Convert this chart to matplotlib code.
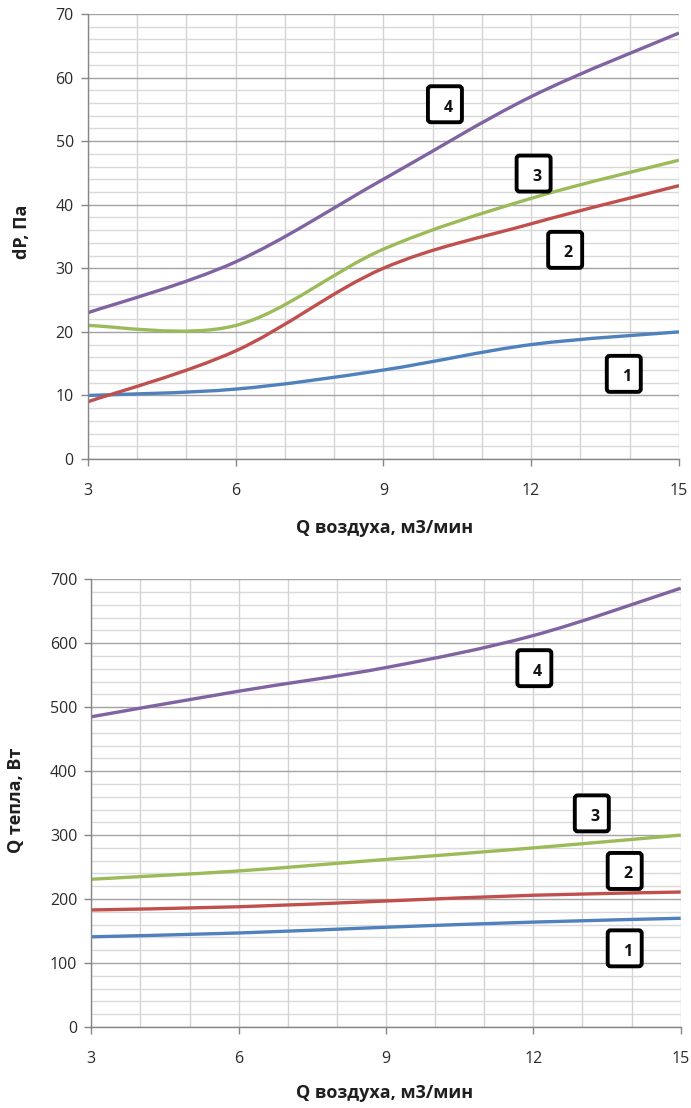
import matplotlib
matplotlib.use("Agg")
import matplotlib.pyplot as plt
from matplotlib.path import Path
from matplotlib.patches import PathPatch, FancyBboxPatch
from matplotlib.ticker import MultipleLocator
from matplotlib.transforms import ScaledTranslation

plt.rcParams['font.family'] = ['Open Sans', 'DejaVu Sans']

# ---- data ----
x_vals = [3, 6, 9, 12, 15]
x_ticks = [3, 6, 9, 12, 15]

dp_1 = [10, 11, 14, 18, 20]
dp_2 = [9, 17, 30, 37, 43]
dp_3 = [21, 21, 33, 41, 47]
dp_4 = [23, 31, 44, 57, 67]

q_1 = [141, 147, 156, 164, 170]
q_2 = [183, 188, 197, 206, 211]
q_3 = [231, 244, 262, 280, 300]
q_4 = [485, 525, 562, 612, 686]

labels = ["1", "2", "3", "4"]
dp_label_x = [13.88, 12.69, 12.05, 10.25]
dp_label_y = [13.4, 32.9, 44.9, 55.8]
q_label_x = [13.86, 13.86, 13.19, 12.02]
q_label_y = [123, 244, 334, 561]

colors = ['#4F81BD', '#C0504D', '#9BBB59', '#8064A2']

xlabel = "Q воздуха, м3/мин"
ylabel_top = "dP, Па"
ylabel_bot = "Q тепла, Вт"


def smooth_path(xs, ys):
    """Excel-style smoothed line as a cubic Bezier path through the points."""
    pts = list(zip(xs, ys))
    n = len(pts)
    verts = [pts[0]]
    codes = [Path.MOVETO]
    for i in range(n - 1):
        p0 = pts[i - 1] if i > 0 else pts[i]
        p1 = pts[i]
        p2 = pts[i + 1]
        p3 = pts[i + 2] if i + 2 < n else pts[i + 1]
        c1 = (p1[0] + (p2[0] - p0[0]) / 6.0, p1[1] + (p2[1] - p0[1]) / 6.0)
        c2 = (p2[0] - (p3[0] - p1[0]) / 6.0, p2[1] - (p3[1] - p1[1]) / 6.0)
        verts += [c1, c2, p2]
        codes += [Path.CURVE4] * 3
    return Path(verts, codes)


fig = plt.figure(figsize=(6.91, 11.08), dpi=100)
ax1 = fig.add_axes([0.1269, 0.5857, 0.9826 - 0.1269, 0.9874 - 0.5857])
ax2 = fig.add_axes([0.1321, 0.0731, 0.9851 - 0.1321, 0.4772 - 0.0731])


def style(ax, ymax, ymajor, yminor):
    ax.set_xlim(3, 15)
    ax.set_ylim(0, ymax)
    ax.set_xticks(x_ticks)
    ax.xaxis.set_minor_locator(MultipleLocator(1))
    ax.yaxis.set_major_locator(MultipleLocator(ymajor))
    ax.yaxis.set_minor_locator(MultipleLocator(yminor))
    ax.grid(axis='y', which='major', color='#a3a3a3', linewidth=1.0)
    ax.grid(axis='y', which='minor', color='#d9d9d9', linewidth=1.0)
    ax.grid(axis='x', which='both', color='#d4d4d4', linewidth=1.0)
    ax.set_axisbelow(True)
    for s in ['top', 'right']:
        ax.spines[s].set_visible(False)
    for s in ['left', 'bottom']:
        ax.spines[s].set_color('#868686')
        ax.spines[s].set_linewidth(1.0)
    ax.tick_params(which='major', direction='out', length=5, width=1,
                   color='#868686', labelsize=11.5, labelcolor='#2b2b2b')
    ax.tick_params(axis='x', which='major', pad=12)
    ax.tick_params(axis='y', which='major', pad=5)
    ax.tick_params(which='minor', length=0)


style(ax1, 70, 10, 2)
style(ax2, 700, 100, 20)

for ys, c in zip([dp_1, dp_2, dp_3, dp_4], colors):
    ax1.add_patch(PathPatch(smooth_path(x_vals, ys), facecolor='none',
                            edgecolor=c, linewidth=2.4, capstyle='butt'))
for ys, c in zip([q_1, q_2, q_3, q_4], colors):
    ax2.add_patch(PathPatch(smooth_path(x_vals, ys), facecolor='none',
                            edgecolor=c, linewidth=2.4, capstyle='butt'))

bw, bh = 0.34, 0.36  # box size in inches
for ax, lx, ly in [(ax1, dp_label_x, dp_label_y), (ax2, q_label_x, q_label_y)]:
    for t, xx, yy in zip(labels, lx, ly):
        tr = fig.dpi_scale_trans + ScaledTranslation(xx, yy, ax.transData)
        ax.add_artist(FancyBboxPatch((-bw / 2, -bh / 2), bw, bh,
                                     boxstyle='round,pad=0,rounding_size=0.03',
                                     facecolor='white', edgecolor='black',
                                     linewidth=2.8, transform=tr, zorder=5,
                                     clip_on=False))
        ax.text(0.03, -0.035, t, transform=tr, ha='center', va='center',
                fontsize=11.5, fontweight='bold', color='#111111', zorder=6)

lab_font = dict(fontsize=13, fontweight='bold', color='#1f1f1f')
fig.text(0.557, 1 - 528 / 1108, xlabel, ha='center', va='center', **lab_font)
fig.text(0.557, 1 - 1093 / 1108, xlabel, ha='center', va='center', **lab_font)
fig.text(22 / 691, 1 - 232 / 1108, ylabel_top, ha='center', va='center',
         rotation=90, **lab_font)
fig.text(16 / 691, 1 - 800 / 1108, ylabel_bot, ha='center', va='center',
         rotation=90, **lab_font)

fig.savefig("out.png", dpi=100, facecolor='white')
